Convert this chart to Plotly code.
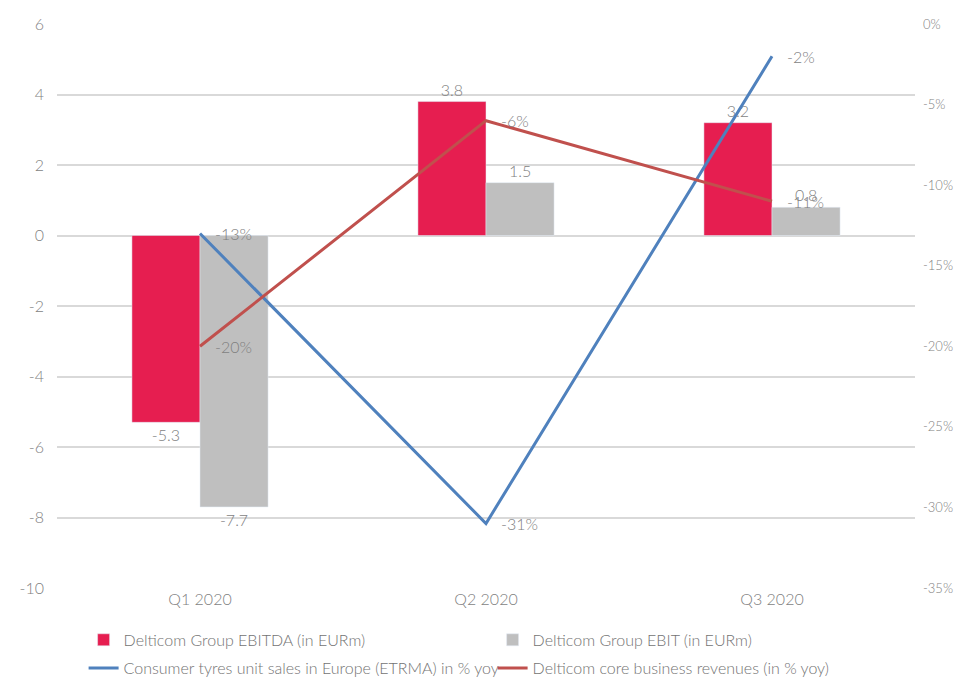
import plotly.graph_objects as go

quarters = ['Q1 2020', 'Q2 2020', 'Q3 2020']
ebitda = [-5.3, 3.8, 3.2]
ebit = [-7.7, 1.5, 0.8]
etrma = [-13, -31, -2]
core_rev = [-20, -6, -11]

left_ticks = [-10, -8, -6, -4, -2, 0, 2, 4, 6]
right_ticks = [-35, -30, -25, -20, -15, -10, -5, 0]

gray = '#7f7f7f'
FONT = 'Lato'
label_font = dict(family=FONT, size=16, color=gray, weight=300)

fig = go.Figure()

fig.add_trace(go.Bar(
    x=quarters, y=ebitda, name='Delticom Group EBITDA (in EURm)',
    marker_color='#E61E50', text=[f'{v:.1f}' for v in ebitda],
    textposition='outside', textfont=label_font, cliponaxis=False,
    legend='legend'))
fig.add_trace(go.Bar(
    x=quarters, y=ebit, name='Delticom Group EBIT (in EURm)',
    marker_color='#BFBFBF', text=[f'{v:.1f}' for v in ebit],
    textposition='outside', textfont=label_font, cliponaxis=False,
    legend='legend'))

fig.add_trace(go.Scatter(
    x=quarters, y=etrma, yaxis='y2', mode='lines',
    name='Consumer tyres unit sales in Europe (ETRMA) in % yoy',
    line=dict(color='#4F81BD', width=3), legend='legend2'))
fig.add_trace(go.Scatter(
    x=quarters, y=core_rev, yaxis='y2', mode='lines',
    name='Delticom core business revenues (in % yoy)',
    line=dict(color='#C0504D', width=3), legend='legend2'))

# percentage labels to the right of the line points
for vals in (etrma, core_rev):
    for q, v in zip(quarters, vals):
        fig.add_annotation(x=q, y=v, xref='x', yref='y2', text=f'{v}%',
                           showarrow=False, xanchor='left', xshift=13,
                           font=label_font)

leg_common = dict(orientation='h', xanchor='left', yanchor='middle',
                  entrywidth=364,
                  font=dict(family=FONT, size=16, color='#737373', weight=300),
                  traceorder='normal', bgcolor='rgba(0,0,0,0)')

# page body adds an 8px offset, so the figure is sized/margined to compensate
fig.update_layout(
    width=957, height=669,
    margin=dict(l=49, r=50, t=16, b=89, autoexpand=False),
    plot_bgcolor='white', paper_bgcolor='white',
    font=dict(family=FONT, size=16, color=gray, weight=300),
    barmode='group', bargap=0.524, bargroupgap=0,
    showlegend=True,
    legend=dict(x=0.031, y=-0.092, **leg_common),
    legend2=dict(x=0.031, y=-0.142, **leg_common),
    xaxis=dict(showgrid=False, showline=False, ticks='', tickfont=dict(size=16)),
    yaxis=dict(range=[-10, 6], tickvals=left_ticks,
               ticktext=[str(t) for t in left_ticks],
               showgrid=True, gridcolor='#D9D9D9', gridwidth=1.5,
               zeroline=False, showline=False, ticks='',
               ticklabelstandoff=12, tickfont=dict(size=16)),
    yaxis2=dict(range=[-35, 0], tickvals=right_ticks,
                ticktext=[f'{t}%' for t in right_ticks], overlaying='y',
                side='right', showgrid=False, zeroline=False, showline=False,
                ticklabelstandoff=7, tickfont=dict(size=13)),
)

fig.write_html('out.html')
